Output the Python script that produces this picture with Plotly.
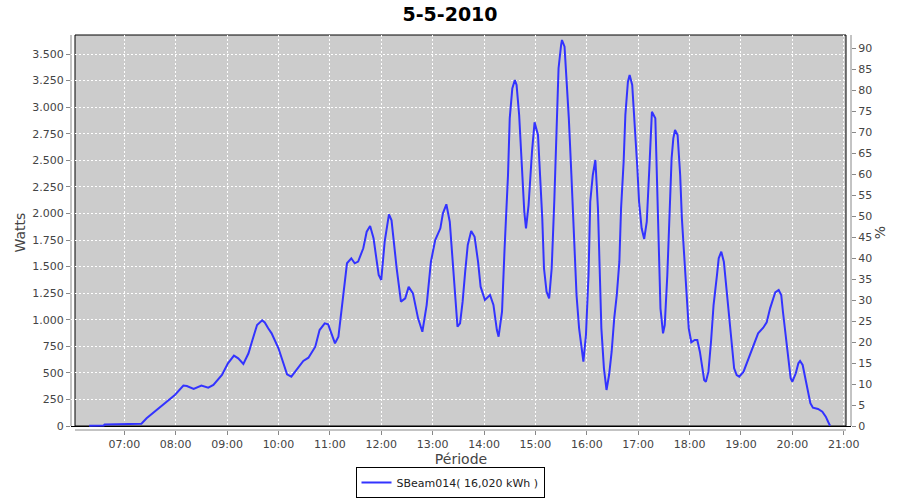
import plotly.graph_objects as go

# ---- data ----
DAY = "2010-05-05"
times = [
    "06:19", "06:36", "06:37", "07:18", "07:20", "07:26", "07:40", "07:51", "07:59", "08:09",
    "08:13", "08:21", "08:30", "08:38", "08:44", "08:54", "09:01", "09:08", "09:13", "09:19",
    "09:25", "09:29", "09:35", "09:41", "09:44", "09:48", "09:52", "10:00", "10:06", "10:10",
    "10:15", "10:21", "10:29", "10:35", "10:43", "10:48", "10:54", "10:58", "11:06", "11:10",
    "11:15", "11:20", "11:25", "11:29", "11:33", "11:39", "11:43", "11:47", "11:51", "11:57",
    "12:00", "12:04", "12:09", "12:12", "12:18", "12:23", "12:28", "12:32", "12:37", "12:43",
    "12:48", "12:53", "12:58", "13:03", "13:09", "13:12", "13:16", "13:20", "13:24", "13:27",
    "13:29", "13:32", "13:35", "13:38", "13:41", "13:45", "13:49", "13:53", "13:56", "14:01",
    "14:07", "14:11", "14:15", "14:17", "14:21", "14:24", "14:28", "14:30", "14:33", "14:36",
    "14:38", "14:41", "14:44", "14:47", "14:49", "14:52", "14:56", "14:59", "15:03", "15:05",
    "15:08", "15:10", "15:13", "15:16", "15:19", "15:22", "15:25", "15:27", "15:30", "15:31",
    "15:34", "15:36", "15:39", "15:42", "15:45", "15:48", "15:51", "15:54", "15:56", "15:59",
    "16:02", "16:04", "16:07", "16:10", "16:13", "16:15", "16:17", "16:20", "16:23", "16:26",
    "16:29", "16:32", "16:35", "16:38", "16:40", "16:43", "16:45", "16:48", "16:50", "16:53",
    "16:56", "16:59", "17:01", "17:04", "17:07", "17:10", "17:13", "17:15", "17:16", "17:20",
    "17:22", "17:24", "17:26", "17:29", "17:31", "17:34", "17:36", "17:39", "17:41", "17:43",
    "17:46", "17:49", "17:51", "17:54", "17:57", "17:59", "18:02", "18:06", "18:09", "18:12",
    "18:15", "18:17", "18:19", "18:22", "18:25", "18:28", "18:32", "18:34", "18:37", "18:40",
    "18:43", "18:46", "18:49", "18:52", "18:55", "18:58", "19:03", "19:08", "19:14", "19:20",
    "19:26", "19:30", "19:34", "19:38", "19:40", "19:44", "19:47", "19:49", "19:52", "19:55",
    "19:58", "20:00", "20:04", "20:07", "20:09", "20:12", "20:15", "20:18", "20:21", "20:24",
    "20:30", "20:35", "20:39", "20:42", "20:44",
]
watts = [
    2, 5, 14, 17, 22, 72, 166, 245, 292, 380,
    376, 348, 380, 360, 386, 480, 590, 662, 637, 583,
    684, 793, 950, 994, 975, 919, 872, 731, 574, 486,
    464, 527, 612, 643, 746, 903, 966, 956, 778, 840,
    1201, 1531, 1578, 1531, 1547, 1672, 1828, 1882, 1766, 1421,
    1374, 1734, 1992, 1935, 1484, 1170, 1201, 1311, 1248, 1013,
    887, 1138, 1546, 1750, 1860, 2001, 2086, 1922, 1484, 1107,
    934, 965, 1170, 1452, 1703, 1835, 1780, 1546, 1311, 1186,
    1233, 1139, 903, 840, 1075, 1672, 2362, 2895, 3177, 3255,
    3208, 2926, 2487, 2016, 1860, 2079, 2581, 2857, 2738, 2425,
    1954, 1484, 1264, 1201, 1484, 2110, 2895, 3366, 3585, 3632,
    3569, 3334, 2895, 2362, 1797, 1233, 919, 699, 605, 856,
    1421, 2110, 2362, 2503, 2048, 1484, 919, 543, 339, 480,
    699, 1013, 1233, 1546, 2048, 2487, 2926, 3240, 3303, 3209,
    2863, 2425, 2110, 1860, 1760, 1922, 2425, 2750, 2957, 2895,
    2331, 1797, 1107, 872, 950, 1421, 1922, 2519, 2707, 2785,
    2738, 2362, 1954, 1546, 1170, 919, 788, 809, 809, 699,
    543, 433, 417, 511, 793, 1138, 1421, 1578, 1640, 1546,
    1296, 1044, 762, 543, 480, 464, 511, 621, 746, 872,
    925, 975, 1107, 1201, 1258, 1280, 1233, 1075, 856, 605,
    449, 417, 496, 590, 612, 574, 449, 323, 214, 172,
    160, 135, 88, 35, 3,
]
hour_ticks = ["07:00", "08:00", "09:00", "10:00", "11:00", "12:00", "13:00", "14:00",
              "15:00", "16:00", "17:00", "18:00", "19:00", "20:00", "21:00"]
watts_ticks = [0, 250, 500, 750, 1000, 1250, 1500, 1750, 2000, 2250, 2500, 2750, 3000, 3250, 3500]
pct_ticks = [0, 5, 10, 15, 20, 25, 30, 35, 40, 45, 50, 55, 60, 65, 70, 75, 80, 85, 90]
series_name = "SBeam014( 16,020 kWh )"
title_text = "5-5-2010"

x = [f"{DAY} {t}" for t in times]
xticks = [f"{DAY} {t}" for t in hour_ticks]

FONT = "DejaVu Sans"
GREY_TXT = "#444444"
AXIS_GREY = "#888888"

# plot-area geometry (pixels)
L, R, T, B = 71, 851, 35, 430
IL, IR, IB = 75, 846, 426
W = R - L
H = B - T

def px(p):
    return (p - L) / W

def py(p):
    return (B - p) / H

fig = go.Figure()
fig.add_trace(go.Scatter(
    x=x, y=watts, mode="lines", name=series_name,
    line=dict(color="#3333FF", width=2),
))
fig.add_trace(go.Scatter(
    x=[x[0]], y=[0], yaxis="y2", mode="markers",
    marker=dict(opacity=0), showlegend=False, hoverinfo="skip",
))

shapes = [
    dict(type="rect", xref="paper", yref="paper",
         x0=px(IL), x1=px(IR), y0=py(IB), y1=1,
         fillcolor="#CCCCCC", line=dict(color="black", width=1), layer="below"),
    dict(type="line", xref="paper", yref="paper",
         x0=0, x1=0, y0=py(IB), y1=1,
         line=dict(color=AXIS_GREY, width=1), layer="below"),
    dict(type="line", xref="paper", yref="paper",
         x0=1, x1=1, y0=py(IB), y1=1,
         line=dict(color=AXIS_GREY, width=1), layer="below"),
    dict(type="line", xref="paper", yref="paper",
         x0=px(IL), x1=px(IR), y0=0, y1=0,
         line=dict(color=AXIS_GREY, width=1), layer="below"),
]

# axis ranges so that value 0 sits on the inner plot border (pixel 426)
w_per_px = 250 / 26.57
p_per_px = 5 / 20.98
y_range = [-(B - IB) * w_per_px, (IB - T) * w_per_px]
y2_range = [-(B - IB) * p_per_px, (IB - T) * p_per_px]
x_range = [f"{DAY} 05:57:46", f"{DAY} 21:08:27"]

tickfont = dict(family=FONT, size=11, color=GREY_TXT)
titlefont = dict(family=FONT, size=14, color=GREY_TXT)

fig.update_layout(
    width=900, height=500,
    margin=dict(l=L, r=900 - R, t=T, b=500 - B, autoexpand=False),
    paper_bgcolor="white",
    plot_bgcolor="rgba(0,0,0,0)",
    separators=",.",
    shapes=shapes,
    title=dict(text=title_text, x=0.5, xref="container", xanchor="center",
               y=1 - 14 / 500, yref="container", yanchor="middle",
               font=dict(family=FONT, size=19, color="black", weight="bold")),
    xaxis=dict(
        type="date", range=x_range, automargin=False,
        tickvals=xticks, tickformat="%H:%M",
        showgrid=True, gridcolor="white", griddash="2px,2px", gridwidth=1,
        zeroline=False, showline=False,
        ticks="outside", ticklen=4, tickcolor=AXIS_GREY,
        tickfont=tickfont,
        title=dict(text="Période", font=titlefont, standoff=6),
    ),
    yaxis=dict(
        range=y_range, tickvals=watts_ticks, tickformat=",d", automargin=False,
        showgrid=True, gridcolor="white", griddash="2px,2px", gridwidth=1,
        zeroline=True, zerolinecolor="black", zerolinewidth=1,
        showline=False,
        ticks="outside", ticklen=4, tickcolor=AXIS_GREY,
        tickfont=tickfont,
        title=dict(text="Watts", font=titlefont, standoff=3),
    ),
    yaxis2=dict(
        range=y2_range, tickvals=pct_ticks, overlaying="y", side="right",
        automargin=False,
        showgrid=False, zeroline=False, showline=False,
        ticks="outside", ticklen=4, tickcolor=AXIS_GREY,
        tickfont=tickfont,
        title=dict(text="%", font=titlefont, standoff=3),
    ),
    showlegend=True,
    legend=dict(
        orientation="h", x=0.5, xanchor="center", xref="container",
        y=1 - 498 / 500, yanchor="bottom", yref="container",
        bordercolor="black", borderwidth=1,
        font=dict(family=FONT, size=11, color="#222222"),
        itemwidth=30, tracegroupgap=0,
    ),
)

fig.write_html("out.html", config={"displayModeBar": False},
               post_script="document.body.style.margin='0';")
